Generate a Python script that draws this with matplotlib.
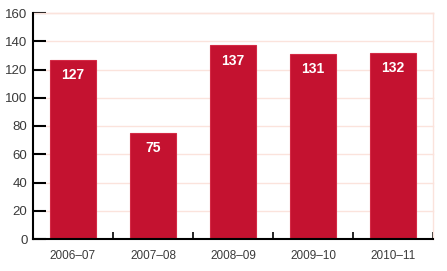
import matplotlib
matplotlib.use("Agg")
import matplotlib.pyplot as plt

# data
years = ["2006\u201307", "2007\u201308", "2008\u201309", "2009\u201310", "2010\u201311"]
counts = [127, 75, 137, 131, 132]
yticks = [0, 20, 40, 60, 80, 100, 120, 140, 160]

bar_color = "#C41230"
grid_color = "#FBE3DC"

plt.rcParams["font.family"] = ["Liberation Sans", "DejaVu Sans"]

fig = plt.figure(figsize=(4.47, 2.71), dpi=100)
ax = fig.add_axes([33 / 447, 32 / 271, 400 / 447, 226 / 271])

x = list(range(len(years)))
ax.bar(x, counts, width=0.575, color=bar_color, edgecolor="#D42A45",
       linewidth=0.8, zorder=3)

for xi, v in zip(x, counts):
    ax.annotate(str(v), (xi, v), xytext=(0, -11), textcoords="offset points",
                ha="center", va="center", color="white", fontsize=10,
                fontweight="bold", zorder=4)

ax.set_xlim(-0.5, len(years) - 0.5)
ax.set_ylim(0, 160)
ax.set_yticks(yticks)
ax.set_yticklabels([str(t) for t in yticks])

# grid only inside plot area (start a bit right of the spine)
for t in yticks[1:]:
    ax.plot([-0.35, len(years) - 0.5], [t, t], color=grid_color, lw=1.0,
            zorder=1, clip_on=False)

# category labels centred, ticks on boundaries
ax.set_xticks(x)
ax.set_xticklabels(years)
ax.tick_params(axis="x", length=0, pad=8, labelsize=8.5, labelcolor="#3a3a3a")
ax.set_xticks([i + 0.5 for i in x], minor=True)
ax.tick_params(axis="x", which="minor", direction="in", length=5, width=1.2,
               color="black")
ax.tick_params(axis="y", direction="in", length=9, width=1.5, pad=4,
               labelsize=9.5, labelcolor="#3a3a3a", color="black")

for side in ["left", "bottom"]:
    ax.spines[side].set_linewidth(1.5)
    ax.spines[side].set_color("black")
    ax.spines[side].set_zorder(5)
for side in ["right", "top"]:
    ax.spines[side].set_color(grid_color)
    ax.spines[side].set_linewidth(1.0)

fig.savefig("out.png", dpi=100)
